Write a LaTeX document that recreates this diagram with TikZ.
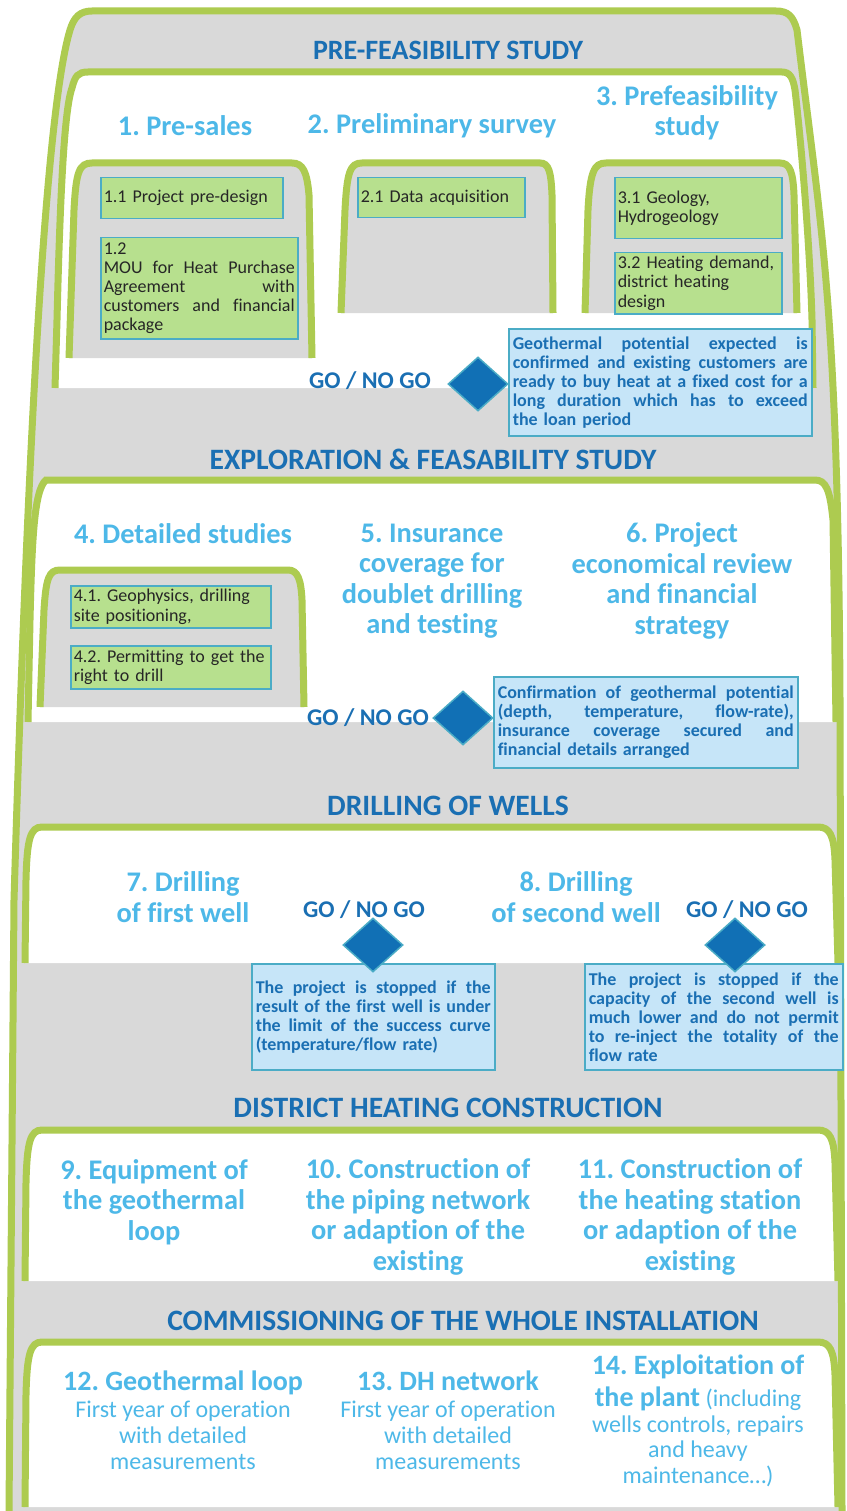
\documentclass[tikz,border=0pt]{standalone}
\usepackage{fontspec}
\setmainfont{Carlito}[Ligatures=NoCommon]
\usetikzlibrary{shapes.geometric}
\definecolor{grn}{HTML}{ADCB50}
\definecolor{gry}{HTML}{D9D9D9}
\definecolor{dblue}{HTML}{1A6FB3}
\definecolor{lblue}{HTML}{4DB8E8}
\definecolor{boxg}{HTML}{B7E08E}
\definecolor{boxb}{HTML}{C6E5F8}
\definecolor{edge}{HTML}{4BACC6}
\definecolor{diafill}{HTML}{1170B5}
\definecolor{ink}{HTML}{262626}
\newcommand{\jl}[1]{\leavevmode\hbox to \hsize{\spaceskip=0.22em plus 1fil\relax #1}}
\frenchspacing
\tikzset{
  hdr/.style={font=\fontsize{29.6}{31}\selectfont\bfseries, text=dblue},
  ttl/.style={font=\fontsize{28.4}{30.4}\selectfont\bfseries, text=lblue, align=center},
  dsc/.style={font=\fontsize{24}{25.6}\selectfont, text=lblue, align=center},
  gono/.style={font=\fontsize{24}{26}\selectfont\bfseries, text=dblue},
  gbox/.style={draw=edge, line width=1.5pt, fill=boxg, text=ink, inner xsep=3pt, inner ysep=0pt,
    anchor=north west, align=left, font=\fontsize{18}{19.2}\selectfont},
  note/.style={draw=edge, line width=1.5pt, fill=boxb, text=dblue, inner xsep=4pt, inner ysep=0pt,
    anchor=north west, align=left, font=\fontsize{18}{19}\selectfont\bfseries},
  dmd/.style={diamond, draw=edge, line width=1.5pt, fill=diafill, minimum width=60pt, minimum height=54pt, inner sep=0pt},
  pnl/.style={fill=white, draw=grn, line width=7pt},
  sub/.style={fill=gry, draw=grn, line width=7pt}
}
\begin{document}
\begin{tikzpicture}[x=1pt, y=-1pt]
  \fill[white] (0,0) rectangle (846,1511);
  \useasboundingbox (0,0) rectangle (846,1511);
  \path[fill=gry, draw=grn, line width=7pt] (9,1511) -- (14,900) .. controls (23,600) and (40,130) .. (70,30)
    .. controls (74,17) and (80,11) .. (92,11) -- (776,11) .. controls (788,11) and (793,16) .. (797,30)
    .. controls (821,230) and (838,300) .. (840,700) -- (842,1511);
  \path[pnl] (55,388) -- (57,320) .. controls (60,200) and (64,110) .. (72,88) .. controls (75,76) and (78,72) .. (88,72)
    -- (782,72) .. controls (790,72) and (793,78) .. (795,90) .. controls (802,150) and (810,250) .. (812,320) -- (813,388);
  \path[pnl] (28,722) -- (30,620) .. controls (32,540) and (34,490) .. (46,480)
    -- (815,480) .. controls (826,480) and (830,490) .. (833,520) -- (836,722);
  \path[pnl] (25,963) -- (26,880) .. controls (27,840) and (30,827) .. (42,827)
    -- (818,827) .. controls (830,827) and (834,836) .. (835,860) -- (838,963);
  \path[pnl] (25,1281) -- (26,1183) .. controls (27,1143) and (30,1130) .. (42,1130)
    -- (818,1130) .. controls (830,1130) and (834,1139) .. (835,1163) -- (838,1281);
  \path[pnl] (25,1507) -- (26,1395) .. controls (27,1355) and (30,1342) .. (42,1342)
    -- (818,1342) .. controls (830,1342) and (834,1351) .. (835,1375) -- (838,1507);
  \path[sub] (69,358) -- (74,210) .. controls (76,172) and (79,163) .. (92,163)
    -- (292,163) .. controls (303,163) and (307,172) .. (309,195) -- (312,358);
  \path[sub] (341,313) -- (345,210) .. controls (347,172) and (350,163) .. (362,163)
    -- (540,163) .. controls (549,163) and (551,172) .. (552,195) -- (553,313);
  \path[sub] (585,313) -- (588,210) .. controls (590,172) and (594,163) .. (606,163)
    -- (780,163) .. controls (790,163) and (793,172) .. (794,195) -- (797,313);
  \path[sub] (40,707) -- (44,610) .. controls (46,578) and (49,570) .. (60,570)
    -- (288,570) .. controls (298,570) and (301,580) .. (302,600) -- (304,707);

  \node[hdr, font=\fontsize{28}{30}\selectfont\bfseries] (h1) at (448,50) {PRE-FEASIBILITY STUDY};
  \node[hdr] (h2) at (433,459) {EXPLORATION \& FEASABILITY STUDY};
  \node[hdr] (h3) at (448,806) {DRILLING OF WELLS};
  \node[hdr] (h4) at (448,1108) {DISTRICT HEATING CONSTRUCTION};
  \node[hdr] (h5) at (463,1321) {COMMISSIONING OF THE WHOLE INSTALLATION};

  \node[ttl] (t1) at (185,126) {1. Pre-sales};
  \node[ttl] (t2) at (432,126) {2. Preliminary survey};
  \node[ttl] (t3) at (687,113) {3. Prefeasibility\\study};
  \node[ttl] (t4) at (183,534) {4. Detailed studies};
  \node[ttl] (t5) at (432,581) {5. Insurance\\coverage for\\doublet drilling\\and testing};
  \node[ttl] (t6) at (682,581) {6. Project\\economical review\\and financial\\strategy};
  \node[ttl] (t7) at (183,897) {7. Drilling\\of first well};
  \node[ttl] (t8) at (576,897) {8. Drilling\\of second well};
  \node[ttl] (t9) at (154,1202) {9. Equipment of\\the geothermal\\loop};
  \node[ttl] (t10) at (418,1217) {10. Construction of\\the piping network\\or adaption of the\\existing};
  \node[ttl] (t11) at (690,1217) {11. Construction of\\the heating station\\or adaption of the\\existing};
  \node[dsc] (t12) at (183,1420) {{\fontsize{28}{30}\selectfont\bfseries 12. Geothermal loop}\\[2pt]
    First year of operation\\with detailed\\measurements};
  \node[dsc] (t13) at (448,1420) {{\fontsize{28}{30}\selectfont\bfseries 13. DH network}\\[2pt]
    First year of operation\\with detailed\\measurements};
  \node[dsc] (t14) at (698,1421) {{\fontsize{28}{30}\selectfont\bfseries 14. Exploitation of}\\[6pt]
    {\fontsize{28}{30}\selectfont\bfseries the plant} (including\\wells controls, repairs\\and heavy\\maintenance…)};

  \node[gbox, text width=176pt, minimum height=41pt] (b11) at (100,177) {1.1 Project pre-design};
  \node[gbox, text width=191pt, minimum height=101pt] (b12) at (100,237) {1.2\\\jl{MOU for Heat Purchase}\\
    \jl{Agreement with}\\\jl{customers and financial}\\package};
  \node[gbox, text width=161pt, minimum height=40pt] (b21) at (357,177) {2.1 Data acquisition};
  \node[gbox, text width=161pt, minimum height=61pt] (b31) at (614,177) {3.1 Geology,\\Hydrogeology};
  \node[gbox, text width=161pt, minimum height=61pt] (b32) at (614,252) {3.2 Heating demand,\\district heating\\design};
  \node[gbox, text width=194pt, minimum height=42pt] (b41) at (70,585) {4.1. Geophysics, drilling\\site positioning,};
  \node[gbox, text width=194pt, minimum height=43pt] (b42) at (70,645) {4.2. Permitting to get the\\right to drill};

  \node[note, text width=295pt, minimum height=107pt] (n1) at (508,328) {\jl{Geothermal potential expected is}\\
    \jl{confirmed and existing customers are}\\\jl{ready to buy heat at a fixed cost for a}\\
    \jl{long duration which has to exceed}\\the loan period};
  \node[note, text width=296pt, minimum height=91pt] (n2) at (493,676) {\jl{Confirmation of geothermal potential}\\
    \jl{(depth, temperature, flow-rate),}\\\jl{insurance coverage secured and}\\financial details arranged};
  \node[note, text width=235pt, minimum height=106pt] (n3) at (251,963) {\jl{The project is stopped if the}\\
    \jl{result of the first well is under}\\\jl{the limit of the success curve}\\(temperature/flow rate)};
  \node[note, text width=250pt, minimum height=106pt] (n4) at (584,963) {\jl{The project is stopped if the}\\
    \jl{capacity of the second well is}\\\jl{much lower and do not permit}\\\jl{to re-inject the totality of the}\\flow rate};

  \node[dmd] (d1) at (478,384) {};
  \node[dmd] (d2) at (463,718) {};
  \node[dmd] (d3) at (373,945) {};
  \node[dmd] (d4) at (735,945) {};
  \node[gono] (g1) at (370,381) {GO / NO GO};
  \node[gono] (g2) at (368,718) {GO / NO GO};
  \node[gono] (g3) at (364,910) {GO / NO GO};
  \node[gono] (g4) at (747,910) {GO / NO GO};
\end{tikzpicture}
\end{document}
